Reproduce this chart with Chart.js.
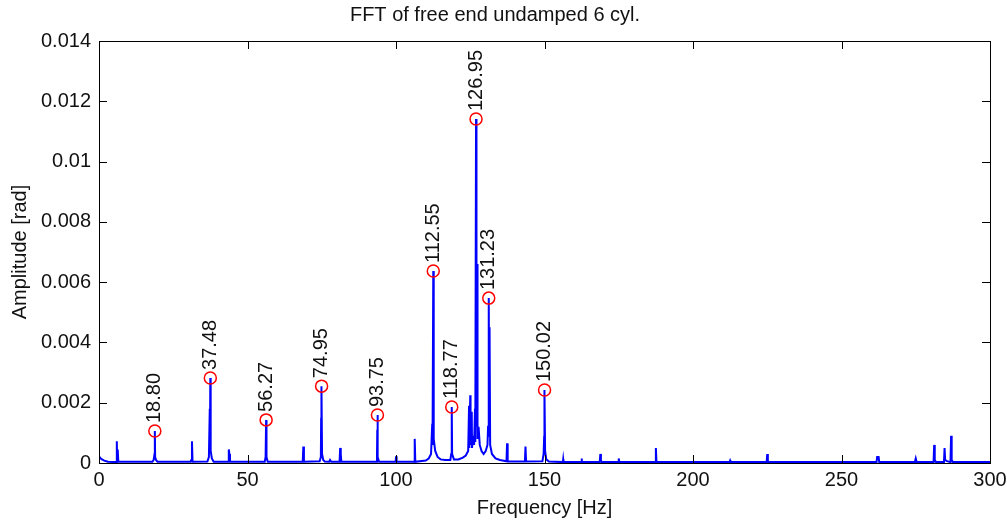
<!DOCTYPE html>
<html>
<head>
<meta charset="utf-8">
<script src="https://cdn.jsdelivr.net/npm/chart.js@4"></script>
<style>
  html, body { margin: 0; padding: 0; background: #fff; }
  #fftChart { display: block; }
</style>
</head>
<body>
<canvas id="fftChart" width="1007" height="525"></canvas>
<script>
// Spectrum: frequency [Hz] and amplitude [rad]
const freqs = [
    0, 0.5, 1.0, 1.8, 3.0,
    5.8, 6.0, 6.1, 6.3, 6.5,
    18.0, 18.4, 18.7, 18.80, 18.9, 19.2, 19.7,
    30.8, 31.1, 31.3, 31.5,
    36.5, 37.0, 37.3, 37.35, 37.48, 37.6, 38.0, 38.6,
    43.6, 43.7, 43.9, 44.1,
    55.8, 56.1, 56.27, 56.4, 56.8,
    68.6, 68.8, 69.0,
    74.3, 74.7, 74.8, 74.85, 74.95, 75.1, 75.5, 76.0, 77.5, 77.8, 78.2,
    81.0, 81.2, 81.4, 81.6,
    93.3, 93.6, 93.7, 93.75, 93.9, 94.3,
    99.9, 100.0, 100.2,
    106.2, 106.3, 106.5,
    110.0, 111.0, 111.8, 112.2, 112.3, 112.55, 112.7, 113.2, 114.0, 115.0, 116.5,
    118.3, 118.6, 118.77, 118.9, 119.5,
    121.0, 122.5, 123.5, 124.3, 124.6, 124.7, 125.0, 125.1, 125.5, 125.6, 126.0, 126.3, 126.6, 126.7,
    126.95, 127.1, 127.3, 127.45, 127.8, 128.2, 128.8, 129.5, 130.2, 130.8, 131.0,
    131.23, 131.4, 131.5, 131.7, 132.3, 133.5, 135.0,
    137.2, 137.4, 137.6,
    143.4, 143.6, 143.8,
    149.3, 149.7, 149.9, 149.95, 150.02, 150.2, 150.6, 151.5,
    156.2, 156.3, 156.4,
    162.4, 162.5, 162.6,
    168.6, 168.8, 169.0, 169.3,
    174.9, 175.0, 175.2,
    181.2, 181.3, 181.4,
    187.3, 187.5, 187.7,
    212.3, 212.5, 212.7,
    224.8, 225.0, 225.2,
    261.8, 262.0, 262.5, 262.7,
    274.7, 275.0, 275.3,
    281.0, 281.2, 281.4, 281.8,
    284.5, 284.7, 284.9, 285.5,
    286.7, 286.9, 287.1, 287.5,
    300
];
const amps = [
    0.00022, 0.00016, 0.00012, 0.00008, 0.00004,
    0.00003, 0.00072, 0.00004, 0.00045, 0.00004,
    0.00004, 0.0001, 0.0003, 0.00106, 0.0002, 0.0001, 0.00004,
    0.00004, 0.0001, 0.00072, 0.00004,
    0.00005, 0.0002, 0.0018, 0.0004, 0.00282, 0.0004, 0.00015, 0.00004,
    0.00004, 0.00045, 0.0003, 0.00004,
    0.00004, 0.0002, 0.00143, 0.0002, 0.00004,
    0.00004, 0.00055, 0.00004,
    0.00006, 0.0002, 0.0015, 0.0003, 0.00255, 0.0003, 0.0001, 0.00005, 0.00004, 0.0001, 0.00004,
    0.00004, 0.0005, 0.0003, 0.00004,
    0.00004, 0.0002, 0.0011, 0.00159, 0.0002, 0.00004,
    0.00004, 0.00022, 0.00004,
    0.00004, 0.0008, 0.00004,
    0.00008, 0.00015, 0.0003, 0.0013, 0.0006, 0.00637, 0.0008, 0.0004, 0.0002, 0.00012, 0.0001,
    0.0001, 0.0003, 0.00186, 0.0003, 0.00012,
    0.00012, 0.00018, 0.00025, 0.0004, 0.0019, 0.0005, 0.00225, 0.0006, 0.0017, 0.0005, 0.0009, 0.0006, 0.0018, 0.0007,
    0.01141, 0.0012, 0.0066, 0.0008, 0.0012, 0.0006, 0.0004, 0.0003, 0.0004, 0.0006, 0.0012,
    0.00547, 0.0009, 0.0045, 0.0006, 0.0003, 0.00015, 0.0001,
    0.00006, 0.00065, 0.00006,
    0.00005, 0.00055, 0.00005,
    0.00006, 0.0003, 0.0009, 0.0004, 0.00242, 0.0004, 0.00012, 0.00005,
    0.00003, 0.00012, 0.00003,
    0.00003, 0.00015, 0.00003,
    0.00003, 0.0003, 0.00008, 0.00003,
    0.00003, 0.00015, 0.00003,
    0.00003, 0.00006, 0.00003,
    0.00003, 0.0005, 0.00003,
    0.00003, 0.00008, 0.00003,
    0.00003, 0.0003, 0.00003,
    0.00003, 0.0002, 0.0002, 0.00003,
    0.00003, 0.00015, 0.00003,
    0.00003, 0.0006, 0.0001, 0.00003,
    0.00003, 0.0005, 0.0001, 0.00006,
    0.00003, 0.0009, 0.0001, 0.00003,
    0.00003
];

// Marked peaks (red circles) and their labels
const peakFreqs = [18.80, 37.48, 56.27, 74.95, 93.75, 112.55, 118.77, 126.95, 131.23, 150.02];
const peakAmps = [0.00106, 0.00282, 0.00143, 0.00255, 0.00159, 0.00637, 0.00186, 0.01141, 0.00547, 0.00242];
const peakLabels = ['18.80', '37.48', '56.27', '74.95', '93.75', '112.55', '118.77', '126.95', '131.23', '150.02'];

// Axis ticks
const xTicks = [0, 50, 100, 150, 200, 250, 300];
const yTicks = [0, 0.002, 0.004, 0.006, 0.008, 0.01, 0.012, 0.014];
const yTickLabels = ['0', '0.002', '0.004', '0.006', '0.008', '0.01', '0.012', '0.014'];

const FONT = '"Liberation Sans", Arial, sans-serif';
const TEXT_COLOR = '#111';

// MATLAB-like box with inward ticks on all four sides
const boxPlugin = {
    id: 'matlabBox',
    afterDraw(chart) {
        const { ctx, chartArea: a, scales: { x, y } } = chart;
        ctx.save();
        ctx.strokeStyle = '#000';
        ctx.lineWidth = 1;
        ctx.strokeRect(a.left + 0.5, a.top + 0.5, a.right - a.left, a.bottom - a.top);
        ctx.beginPath();
        xTicks.forEach(v => {
            const px = Math.round(x.getPixelForValue(v)) + 0.5;
            ctx.moveTo(px, a.bottom); ctx.lineTo(px, a.bottom - 8);
            ctx.moveTo(px, a.top); ctx.lineTo(px, a.top + 8);
        });
        yTicks.forEach(v => {
            const py = Math.round(y.getPixelForValue(v)) + 0.5;
            ctx.moveTo(a.left, py); ctx.lineTo(a.left + 8, py);
            ctx.moveTo(a.right, py); ctx.lineTo(a.right - 8, py);
        });
        ctx.stroke();
        ctx.restore();
    }
};

// Rotated peak labels above the red circles
const peakLabelPlugin = {
    id: 'peakLabels',
    afterDatasetsDraw(chart) {
        const { ctx, scales: { x, y } } = chart;
        ctx.save();
        ctx.font = '20px ' + FONT;
        ctx.fillStyle = TEXT_COLOR;
        ctx.textAlign = 'left';
        ctx.textBaseline = 'middle';
        peakLabels.forEach((txt, i) => {
            const px = x.getPixelForValue(peakFreqs[i]);
            const py = y.getPixelForValue(peakAmps[i]);
            ctx.save();
            ctx.translate(px, py - 8);
            ctx.rotate(-Math.PI / 2);
            ctx.fillText(txt, 0, 0);
            ctx.restore();
        });
        ctx.restore();
    }
};

const ctx = document.getElementById('fftChart').getContext('2d');

new Chart(ctx, {
    type: 'scatter',
    data: {
        datasets: [
            {
                label: 'Peaks',
                data: peakFreqs.map((f, i) => ({ x: f, y: peakAmps[i] })),
                showLine: false,
                pointStyle: 'circle',
                pointRadius: 6,
                pointBorderWidth: 1.5,
                pointBorderColor: '#ff0000',
                pointBackgroundColor: 'rgba(0,0,0,0)',
                order: 0
            },
            {
                label: 'FFT',
                data: freqs.map((f, i) => ({ x: f, y: amps[i] })),
                showLine: true,
                borderColor: '#0000ff',
                borderWidth: 2,
                pointRadius: 0,
                tension: 0,
                order: 1
            }
        ]
    },
    options: {
        responsive: false,
        animation: false,
        devicePixelRatio: 1,
        layout: { padding: { left: 0, right: 17, top: 0, bottom: 0 } },
        plugins: {
            legend: { display: false },
            tooltip: { enabled: false },
            title: {
                display: true,
                text: 'FFT of free end undamped 6 cyl.',
                color: TEXT_COLOR,
                font: { family: FONT, size: 20, weight: 'normal' },
                padding: { top: 3, bottom: 14 }
            }
        },
        scales: {
            x: {
                type: 'linear',
                min: 0,
                max: 300,
                grid: { display: false, drawTicks: false },
                border: { display: false },
                afterBuildTicks: scale => { scale.ticks = xTicks.map(v => ({ value: v })); },
                afterFit: scale => {
                    scale.height = 62;
                    scale.paddingLeft = 0;
                    scale.paddingRight = 0;
                },
                ticks: {
                    color: TEXT_COLOR,
                    padding: 5,
                    maxRotation: 0,
                    font: { family: FONT, size: 20 },
                    callback: v => String(v)
                },
                title: {
                    display: true,
                    text: 'Frequency [Hz]',
                    color: TEXT_COLOR,
                    font: { family: FONT, size: 20 },
                    padding: { top: 0, bottom: 5 }
                }
            },
            y: {
                type: 'linear',
                min: 0,
                max: 0.014,
                grid: { display: false, drawTicks: false },
                border: { display: false },
                afterBuildTicks: scale => { scale.ticks = yTicks.map(v => ({ value: v })); },
                afterFit: scale => {
                    scale.width = 99;
                    scale.paddingTop = 0;
                    scale.paddingBottom = 0;
                },
                ticks: {
                    color: TEXT_COLOR,
                    padding: 8,
                    font: { family: FONT, size: 20 },
                    callback: (v, i) => yTickLabels[i]
                },
                title: {
                    display: true,
                    text: 'Amplitude [rad]',
                    color: TEXT_COLOR,
                    font: { family: FONT, size: 20 },
                    padding: { top: 8, bottom: 0 }
                }
            }
        }
    },
    plugins: [boxPlugin, peakLabelPlugin]
});
</script>
</body>
</html>
